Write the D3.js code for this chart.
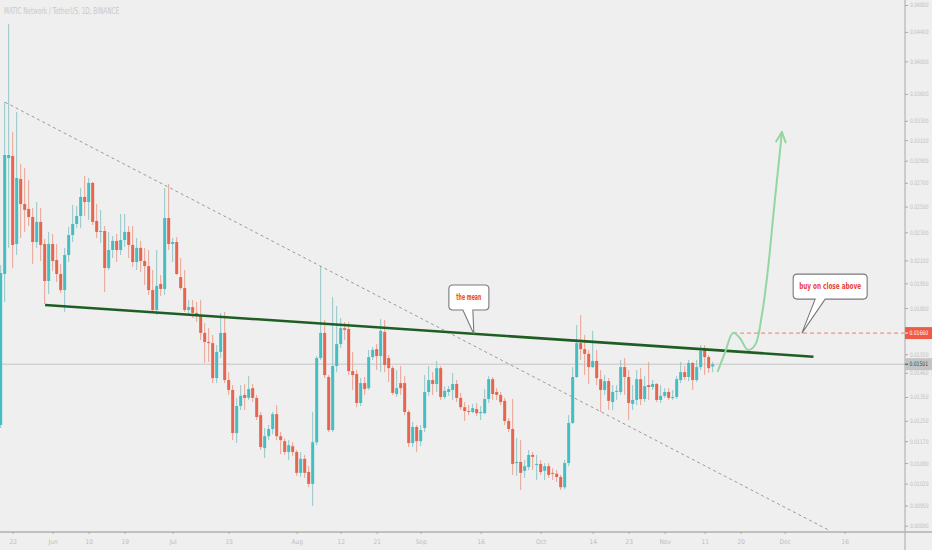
<!DOCTYPE html>
<html><head><meta charset="utf-8">
<script src="https://cdn.jsdelivr.net/npm/d3@7"></script>
<style>body{margin:0;background:#efefef;} svg{display:block;}</style>
</head><body><svg id="c" width="932" height="550"></svg>
<script>
// ---------------- DATA ----------------
const firstDay = "2019-05-19"; // daily candles, one per day
const open = [0.01233,0.02010,0.02925,0.02944,0.02215,0.02733,0.02521,0.02481,0.02417,0.02229,
0.02379,0.02215,0.01965,0.02215,0.02103,0.02010,0.01908,0.02137,0.02280,0.02363,
0.02425,0.02579,0.02537,0.02699,0.02386,0.02303,0.02310,0.02049,0.02172,0.02237,
0.02172,0.02244,0.02303,0.02208,0.02089,0.02187,0.02096,0.02062,0.01908,0.01789,
0.01946,0.01915,0.02409,0.02215,0.02229,0.01990,0.01921,0.01789,0.01806,0.01772,
0.01754,0.01661,0.01613,0.01607,0.01435,0.01562,0.01661,0.01426,0.01381,0.01201,
0.01311,0.01359,0.01346,0.01389,0.01346,0.01273,0.01144,0.01189,0.01217,0.01277,
0.01189,0.01170,0.01130,0.01151,0.01130,0.01056,0.01105,0.01059,0.01019,0.01166,
0.01531,0.01661,0.01440,0.01213,0.01492,0.01602,0.01687,0.01682,0.01468,0.01454,
0.01324,0.01412,0.01389,0.01536,0.01576,0.01541,0.01666,0.01531,0.01482,0.01363,
0.01412,0.01412,0.01286,0.01163,0.01225,0.01170,0.01221,0.01372,0.01426,0.01408,
0.01482,0.01350,0.01372,0.01381,0.01408,0.01346,0.01306,0.01290,0.01286,0.01298,
0.01281,0.01281,0.01341,0.01430,0.01372,0.01359,0.01333,0.01249,0.01217,0.01090,
0.01094,0.01063,0.01076,0.01119,0.01083,0.01087,0.01063,0.01079,0.01056,0.01053,
0.01042,0.01008,0.01090,0.01241,0.01440,0.01607,0.01576,0.01552,0.01487,0.01517,
0.01430,0.01381,0.01421,0.01328,0.01372,0.01372,0.01487,0.01440,0.01320,0.01337,
0.01430,0.01341,0.01403,0.01394,0.01408,0.01337,0.01355,0.01372,0.01346,0.01350,
0.01426,0.01463,0.01440,0.01507,0.01426,0.01487,0.01572,0.01536,0.01490];
const high = [0.02069,0.03507,0.04514,0.03182,0.03395,0.02870,0.02832,0.02725,0.02489,0.02537,
0.02489,0.02251,0.02303,0.02288,0.02215,0.02076,0.02187,0.02340,0.02513,0.02505,
0.02655,0.02760,0.02742,0.02707,0.02521,0.02473,0.02347,0.02303,0.02273,0.02288,
0.02441,0.02441,0.02347,0.02347,0.02258,0.02237,0.02187,0.02172,0.02036,0.02172,
0.02003,0.02655,0.02690,0.02258,0.02265,0.02116,0.02036,0.01848,0.01848,0.01836,
0.01848,0.01715,0.01687,0.01650,0.01597,0.01772,0.01777,0.01463,0.01403,0.01346,
0.01403,0.01408,0.01444,0.01408,0.01359,0.01286,0.01221,0.01233,0.01286,0.01315,
0.01205,0.01181,0.01174,0.01166,0.01137,0.01130,0.01119,0.01079,0.01286,0.01541,
0.02062,0.01732,0.01449,0.01866,0.01812,0.01743,0.01721,0.01721,0.01562,0.01473,
0.01435,0.01440,0.01572,0.01587,0.01602,0.01737,0.01732,0.01546,0.01492,0.01473,
0.01492,0.01444,0.01294,0.01245,0.01233,0.01233,0.01449,0.01492,0.01463,0.01517,
0.01492,0.01398,0.01398,0.01459,0.01426,0.01368,0.01328,0.01315,0.01320,0.01324,
0.01311,0.01385,0.01444,0.01440,0.01389,0.01372,0.01346,0.01261,0.01341,0.01181,
0.01174,0.01101,0.01137,0.01130,0.01119,0.01101,0.01090,0.01090,0.01072,0.01066,
0.01049,0.01101,0.01273,0.01487,0.01704,0.01760,0.01650,0.01572,0.01672,0.01572,
0.01473,0.01449,0.01435,0.01403,0.01403,0.01522,0.01531,0.01473,0.01403,0.01473,
0.01482,0.01444,0.01512,0.01426,0.01412,0.01403,0.01389,0.01389,0.01381,0.01444,
0.01512,0.01492,0.01522,0.01512,0.01522,0.01597,0.01597,0.01546,0.01512];
const low = [0.01221,0.01836,0.02187,0.02049,0.02137,0.02258,0.02303,0.02347,0.02076,0.02187,
0.02096,0.01824,0.01883,0.02029,0.01958,0.01890,0.01777,0.02089,0.02229,0.02332,
0.02332,0.02425,0.02394,0.02355,0.02258,0.02222,0.01896,0.02036,0.02116,0.02089,
0.02137,0.02194,0.02116,0.02056,0.02036,0.02023,0.01940,0.01878,0.01772,0.01760,
0.01872,0.01878,0.02172,0.02089,0.02003,0.01908,0.01777,0.01760,0.01743,0.01721,
0.01623,0.01507,0.01512,0.01412,0.01412,0.01531,0.01412,0.01359,0.01174,0.01163,
0.01294,0.01294,0.01337,0.01328,0.01253,0.01137,0.01108,0.01174,0.01197,0.01174,
0.01122,0.01119,0.01101,0.01115,0.01046,0.01042,0.01039,0.01008,0.00949,0.01155,
0.01522,0.01435,0.01205,0.01205,0.01463,0.01582,0.01623,0.01449,0.01381,0.01306,
0.01311,0.01359,0.01381,0.01522,0.01473,0.01463,0.01463,0.01417,0.01359,0.01350,
0.01359,0.01273,0.01148,0.01148,0.01130,0.01151,0.01205,0.01355,0.01359,0.01372,
0.01337,0.01341,0.01355,0.01337,0.01328,0.01294,0.01249,0.01273,0.01281,0.01269,
0.01253,0.01277,0.01324,0.01337,0.01337,0.01315,0.01233,0.01205,0.01049,0.01046,
0.00999,0.01039,0.01066,0.01066,0.01032,0.01049,0.01032,0.01039,0.01032,0.01025,
0.00999,0.01002,0.01079,0.01237,0.01435,0.01522,0.01449,0.01408,0.01482,0.01403,
0.01286,0.01359,0.01294,0.01294,0.01337,0.01359,0.01359,0.01253,0.01294,0.01315,
0.01315,0.01328,0.01337,0.01381,0.01328,0.01324,0.01346,0.01337,0.01337,0.01341,
0.01412,0.01426,0.01421,0.01381,0.01417,0.01473,0.01449,0.01459,0.01463];
const close = [0.02016,0.02954,0.02954,0.02208,0.02742,0.02521,0.02473,0.02417,0.02229,0.02379,
0.02208,0.01965,0.02215,0.02096,0.02010,0.01908,0.02137,0.02280,0.02363,0.02425,
0.02579,0.02537,0.02699,0.02379,0.02303,0.02310,0.02049,0.02172,0.02237,0.02172,
0.02244,0.02303,0.02208,0.02089,0.02187,0.02096,0.02062,0.01908,0.01789,0.01934,
0.01915,0.02409,0.02215,0.02229,0.02010,0.01921,0.01789,0.01806,0.01772,0.01754,
0.01661,0.01613,0.01607,0.01435,0.01562,0.01661,0.01426,0.01381,0.01201,0.01311,
0.01355,0.01346,0.01385,0.01346,0.01265,0.01148,0.01189,0.01217,0.01277,0.01189,
0.01174,0.01130,0.01155,0.01130,0.01056,0.01105,0.01056,0.01019,0.01166,0.01531,
0.01661,0.01449,0.01213,0.01492,0.01602,0.01687,0.01677,0.01468,0.01449,0.01324,
0.01412,0.01385,0.01536,0.01572,0.01541,0.01672,0.01497,0.01482,0.01368,0.01389,
0.01389,0.01286,0.01163,0.01225,0.01170,0.01213,0.01372,0.01426,0.01408,0.01482,
0.01350,0.01377,0.01385,0.01408,0.01346,0.01306,0.01290,0.01286,0.01302,0.01281,
0.01286,0.01341,0.01430,0.01363,0.01359,0.01328,0.01249,0.01217,0.01087,0.01094,
0.01056,0.01079,0.01119,0.01112,0.01087,0.01059,0.01079,0.01049,0.01053,0.01042,
0.01008,0.01090,0.01241,0.01440,0.01607,0.01576,0.01552,0.01487,0.01517,0.01435,
0.01381,0.01421,0.01333,0.01372,0.01377,0.01487,0.01440,0.01324,0.01337,0.01430,
0.01341,0.01398,0.01394,0.01408,0.01337,0.01355,0.01372,0.01346,0.01350,0.01430,
0.01463,0.01440,0.01507,0.01426,0.01487,0.01567,0.01536,0.01482,0.01501];

const xTickDates  = ["2019-05-22","2019-06-01","2019-06-10","2019-06-19","2019-07-01","2019-07-15","2019-08-01","2019-08-12","2019-08-21","2019-09-01","2019-09-16","2019-10-01","2019-10-14","2019-10-23","2019-11-01","2019-11-11","2019-11-20","2019-12-01","2019-12-16"];
const xTickLabels = ["22","Jun","10","19","Jul","15","Aug","12","21","Sep","16","Oct","14","23","Nov","11","20","Dec","16"];
const yTickValues = [0.048,0.044,0.040,0.036,0.033,0.031,0.029,0.027,0.025,0.023,0.021,0.0195,0.018,0.0155,0.0146,0.0135,0.0125,0.0117,0.0109,0.0102,0.0095,0.0089];
const title = "MATIC Network / TetherUS, 1D, BINANCE";
const lastPrice = 0.01501;
const targetPrice = 0.01660;
// drawings: [day offset from firstDay, price]
const downTrend  = [[1.1,0.03504],[206.9,0.00878]];
const meanLine   = [[11.1,0.01818],[203.2,0.01538]];
const targetFrom = 183.1;
const projection = [[179.3,0.01468],[181.1,0.01560],[183.1,0.01661],[184.8,0.01634],[186.8,0.01572],[188.6,0.01597],[190.3,0.01760],[191.8,0.02036],[193.3,0.02473],[194.6,0.02907],[195.3,0.03182]];
const meanNote = {text:"the mean", day:118.3, price:0.01655};
const buyNote  = {text:"buy on close above", day:200.3, price:0.01660};

// ---------------- CHART ----------------
const W = 932, H = 550, plotR = 905, plotB = 532;
const DAY = 86400000;
const t0 = Date.parse(firstDay);
const svg = d3.select("#c");
const x = d3.scaleUtc().domain([new Date(t0), new Date(t0 + 211*DAY)]).range([0.67, 844.67]);
const xd = d => x(new Date(t0 + d*DAY));
const y = d3.scaleLog().domain([0.048, 0.0089]).range([5, 525.7]);
const font = "'Liberation Sans Narrow','DejaVu Sans Condensed',sans-serif";

svg.append("rect").attr("width",W).attr("height",H).attr("fill","#efefef");
svg.append("defs").append("clipPath").attr("id","plot").append("rect").attr("x",0).attr("y",0).attr("width",plotR).attr("height",plotB);
const plot = svg.append("g").attr("clip-path","url(#plot)");

// last price line
plot.append("line").attr("x1",0).attr("x2",plotR).attr("y1",y(lastPrice)).attr("y2",y(lastPrice))
  .attr("stroke","#c6c6c6").attr("stroke-width",1);

// candles
const idx = d3.range(open.length);
const up = i => close[i] >= open[i];
plot.append("g").selectAll("line").data(idx).join("line")
  .attr("x1", i => xd(i)).attr("x2", i => xd(i))
  .attr("y1", i => y(high[i])).attr("y2", i => y(low[i]))
  .attr("stroke", i => up(i) ? "#93c7c9" : "#eaa394").attr("stroke-width",1);
plot.append("g").selectAll("rect").data(idx).join("rect")
  .attr("x", i => xd(i) - 1.5).attr("width", 3)
  .attr("y", i => y(Math.max(open[i], close[i])))
  .attr("height", i => Math.max(1, Math.abs(y(open[i]) - y(close[i]))))
  .attr("fill", i => up(i) ? "#43bfc3" : "#e6654e");

// downtrend dashed
plot.append("line").attr("x1",xd(downTrend[0][0])).attr("y1",y(downTrend[0][1]))
  .attr("x2",xd(downTrend[1][0])).attr("y2",y(downTrend[1][1]))
  .attr("stroke","#9a9a9a").attr("stroke-width",1).attr("stroke-dasharray","3,3");

// target dashed line
plot.append("line").attr("x1",xd(targetFrom)).attr("x2",plotR).attr("y1",y(targetPrice)).attr("y2",y(targetPrice))
  .attr("stroke","#ee7a6a").attr("stroke-width",1).attr("stroke-dasharray","4,3");

// mean line
plot.append("line").attr("x1",xd(meanLine[0][0])).attr("y1",y(meanLine[0][1]))
  .attr("x2",xd(meanLine[1][0])).attr("y2",y(meanLine[1][1]))
  .attr("stroke","#1f5e22").attr("stroke-width",2.6);

// projection curve
const pts = projection.map(p => [xd(p[0]), y(p[1])]);
plot.append("path").attr("d", d3.line().curve(d3.curveCatmullRom.alpha(0.5))(pts))
  .attr("fill","none").attr("stroke","#93d6a2").attr("stroke-width",2).attr("stroke-linecap","round");
{
  const tip = pts[pts.length-1], prev = pts[pts.length-2];
  const ang = Math.atan2(tip[1]-prev[1], tip[0]-prev[0]);
  const L = 11, a = 0.45;
  const w1 = [tip[0]-L*Math.cos(ang-a), tip[1]-L*Math.sin(ang-a)];
  const w2 = [tip[0]-L*Math.cos(ang+a), tip[1]-L*Math.sin(ang+a)];
  plot.append("path").attr("d", `M${w1[0]},${w1[1]}L${tip[0]},${tip[1]}L${w2[0]},${w2[1]}`)
    .attr("fill","none").attr("stroke","#93d6a2").attr("stroke-width",2).attr("stroke-linecap","round").attr("stroke-linejoin","round");
}

// callouts
function callout(note, dx0, dy0, w, h, b0, b1, textLen){
  const tx = xd(note.day), ty = y(note.price);
  const x0 = tx + dx0, y0 = ty + dy0, x1 = x0 + w, y1 = y0 + h, r = 4;
  const bx0 = x0 + b0, bx1 = x0 + b1;
  const d = `M${x0+r},${y0}H${x1-r}Q${x1},${y0} ${x1},${y0+r}V${y1-r}Q${x1},${y1} ${x1-r},${y1}H${bx1}L${tx},${ty}L${bx0},${y1}H${x0+r}Q${x0},${y1} ${x0},${y1-r}V${y0+r}Q${x0},${y0} ${x0+r},${y0}Z`;
  svg.append("path").attr("d",d).attr("fill","#ffffff").attr("stroke","#7a7a7a").attr("stroke-width",1.1);
  svg.append("text").attr("x",(x0+x1)/2).attr("y",(y0+y1)/2).attr("dy","0.35em")
    .attr("text-anchor","middle").attr("fill","#e8453a")
    .attr("font-family",font)
    .attr("font-size",8).attr("font-weight","bold")
    .attr("textLength",textLen).attr("lengthAdjust","spacingAndGlyphs").text(note.text);
}
callout(meanNote, -25, -49, 40, 25, 14, 24, 25);
callout(buyNote, -8.7, -59, 74, 25, 22, 32, 62);

// axes lines
svg.append("line").attr("x1",plotR).attr("x2",plotR).attr("y1",0).attr("y2",H).attr("stroke","#a8a8a8").attr("stroke-width",1);
svg.append("line").attr("x1",0).attr("x2",W).attr("y1",plotB).attr("y2",plotB).attr("stroke","#b0b0b0").attr("stroke-width",1.5);

const yAxis = svg.append("g").attr("transform",`translate(${plotR},0)`)
  .call(d3.axisRight(y).tickValues(yTickValues).tickFormat(d3.format(".5f")).tickSize(3).tickPadding(2));
yAxis.select(".domain").remove();
yAxis.selectAll("line").attr("stroke","#a8a8a8");
yAxis.selectAll("text").attr("fill","#bdbdbd").attr("font-family",font).attr("font-size",6.2)
  .attr("textLength",18.5).attr("lengthAdjust","spacingAndGlyphs");

const xAxis = svg.append("g").attr("transform",`translate(0,${plotB})`)
  .call(d3.axisBottom(x).tickValues(xTickDates.map(s => new Date(Date.parse(s)))).tickFormat((d,i) => xTickLabels[i]).tickSize(2).tickPadding(5));
xAxis.select(".domain").remove();
xAxis.selectAll("line").attr("stroke","#a8a8a8");
xAxis.selectAll("text").attr("fill","#bdbdbd").attr("font-family",font).attr("font-size",6.5);

// price labels on axis
function priceTag(v, bg, fg){
  const g = svg.append("g").attr("transform",`translate(${plotR},${y(v)})`);
  g.append("rect").attr("x",0).attr("y",-6).attr("width",W-plotR).attr("height",12).attr("fill",bg);
  g.append("line").attr("x1",0).attr("x2",3).attr("stroke",fg);
  g.append("text").attr("x",4.5).attr("dy","0.35em").attr("fill",fg).attr("font-family",font).attr("font-size",6.2)
    .attr("textLength",18.5).attr("lengthAdjust","spacingAndGlyphs")
    .text(d3.format(".5f")(v));
}
priceTag(targetPrice, "#ef5a47", "#ffffff");
priceTag(lastPrice, "#c4c4c4", "#2f4f35");

// title
svg.append("text").attr("x",4).attr("y",13.5).attr("fill","#c9c9c9").attr("font-family",font)
  .attr("font-size",8).attr("textLength",115).attr("lengthAdjust","spacingAndGlyphs").text(title);
</script></body></html>
